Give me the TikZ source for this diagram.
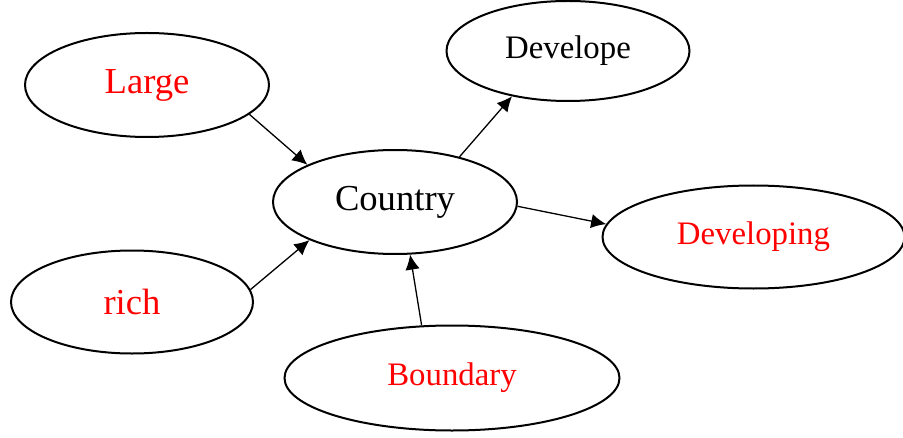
\documentclass[tikz,border=0pt]{standalone}
\usepackage{fontspec}
\setmainfont{Liberation Serif}
\usetikzlibrary{arrows.meta,shapes}
\tikzstyle{bubble}=[ellipse,draw,line width=1pt,inner sep=0pt]
\tikzstyle{bigred}=[font=\fontsize{18.3}{20}\selectfont,text=red]
\tikzstyle{bigblack}=[font=\fontsize{18.3}{20}\selectfont,text=black]
\tikzstyle{smallred}=[font=\fontsize{16.4}{18}\selectfont,text=red]
\tikzstyle{smallblack}=[font=\fontsize{16.4}{18}\selectfont,text=black]
\tikzstyle{edge}=[draw,line width=0.65pt,-{Latex[length=7.5pt,width=7.2pt]}]

\begin{document}
\begin{tikzpicture}[x=0.5pt,y=-0.5pt]
    \useasboundingbox (0,0) rectangle (903,438);
    % First the ellipses
    \foreach \pos/\name/\w/\h/\look/\txt in {{(147,85)/large/122pt/52pt/bigred/Large}, {(568,51)/develope/121.5pt/50pt/smallblack/Develope}, {(395,202)/country/122pt/52pt/bigblack/Country}, {(753.5,237)/developing/151pt/51.5pt/smallred/Developing}, {(132,302)/rich/121pt/51.5pt/bigred/rich}, {(452,378)/boundary/167.5pt/52.5pt/smallred/Boundary}}
        \node[bubble,\look,minimum width=\w,minimum height=\h] (\name) at \pos {\txt};

    % Then the arrows between them
    \foreach \source/\dest in {large.-16/country.157, rich.6/country.204, country.35/develope.219, country.-2/developing.175, boundary.120/country.-74}
        \path[edge] (\source) -- (\dest);

\end{tikzpicture}
\end{document}
